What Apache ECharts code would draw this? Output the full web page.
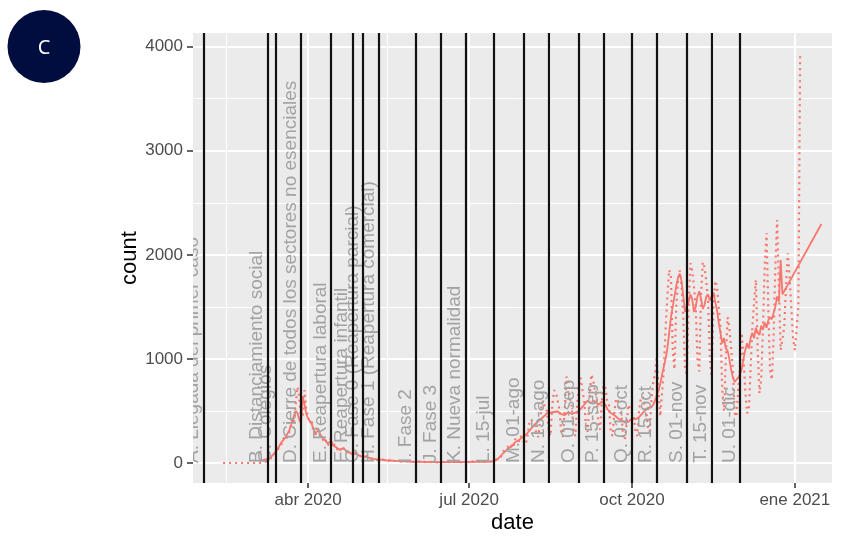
<!DOCTYPE html>
<html>
<head>
<meta charset="utf-8">
<script src="https://cdn.jsdelivr.net/npm/echarts@6/dist/echarts.min.js"></script>
<style>
  html, body { margin: 0; padding: 0; background: #fff; }
  #chart { width: 843px; height: 543px; }
</style>
</head>
<body>
<div id="chart"></div>
<script>
// daily counts (dotted line), one value per day from 2020-02-13
const dailyStart = '2020-02-13';
const dailyCounts = [
  // feb 13-29
  0, 0, 0, 0, 0, 0, 0, 0, 0, 0, 0, 0, 0, 0, 0, 0, 0,
  // mar
  0, 0, 0, 0, 2, 5, 8, 12, 20, 30, 40, 60, 80, 110, 130, 160, 180, 230, 260, 240,
  280, 330, 440, 380, 560, 730, 640, 420, 450, 700, 520,
  // apr
  450, 380, 420, 300, 250, 330, 290, 260, 240, 200, 220, 170, 190, 240, 160, 180,
  140, 130, 110, 160, 150, 120, 130, 100, 90, 80, 120, 95, 80, 70,
  // may
  70, 55, 50, 65, 55, 45, 48, 38, 40, 30, 40, 35, 28, 30, 25, 22, 20, 26, 24, 20,
  22, 18, 15, 15, 19, 17, 14, 15, 12, 11, 12,
  // jun
  12, 10, 13, 9, 12, 8, 8, 11, 10, 11, 8, 10, 7, 7, 10, 11, 9, 7, 10, 11,
  7, 8, 10, 11, 9, 11, 8, 9, 11, 12,
  // jul
  9, 12, 13, 10, 9, 13, 12, 10, 14, 12, 11, 14, 15, 14, 20, 28, 40, 45, 60, 110,
  95, 140, 160, 140, 170, 150, 230, 220, 200, 260, 240,
  // aug
  200, 180, 260, 380, 420, 390, 360, 280, 250, 380, 560, 600, 520, 500, 300, 260,
  560, 700, 680, 600, 520, 300, 250, 520, 830, 780, 620, 540, 300, 260, 560,
  // sep
  740, 820, 700, 600, 350, 300, 620, 850, 800, 700, 640, 380, 320, 600, 780, 720,
  600, 560, 300, 260, 480, 620, 600, 500, 470, 260, 220, 380, 560, 520,
  // oct
  480, 450, 300, 260, 500, 620, 640, 560, 520, 330, 300, 600, 780, 850, 1020, 700,
  450, 445, 900, 1300, 1600, 1855, 1800, 1100, 900, 1500, 1750, 1850, 1700, 1400, 900,
  // nov
  850, 1500, 1920, 1850, 1700, 1500, 1000, 880, 1600, 1930, 1880, 1750, 1550, 1000,
  830, 1500, 1750, 1700, 1500, 1300, 700, 500, 1000, 1400, 1300, 1100, 900, 480, 445, 700,
  // dec
  900, 1250, 1000, 700, 480, 500, 900, 1300, 1550, 1760, 1100, 670, 800, 1300, 1900,
  2210, 1500, 900, 800, 1200, 1900, 2335, 1700, 1085, 1100, 1300, 1700, 2015, 1800, 1500, 1200,
  // jan 1-4
  1085, 1100, 1500, 3940
];

// smoothed counts (solid line), one value per day from 2020-03-05, then a last point
const smoothStart = '2020-03-05';
const smoothCounts = [
  // mar 5-31
  20, 25, 30, 35, 40, 45, 55, 70, 95, 120, 140, 170, 200, 220, 240, 270, 300, 340,
  400, 450, 500, 480, 420, 380, 640, 560, 470,
  // apr
  430, 400, 380, 330, 290, 300, 310, 270, 250, 230, 210, 190, 200, 210, 170, 160,
  150, 135, 125, 140, 145, 125, 115, 105, 95, 85, 100, 90, 80, 72,
  // may
  66, 60, 56, 58, 54, 48, 44, 40, 38, 34, 36, 33, 30, 29, 27, 24, 22, 24, 23, 21,
  20, 19, 17, 16, 17, 16, 15, 14, 13, 12, 12,
  // jun
  11, 11, 12, 10, 11, 9, 9, 10, 10, 10, 9, 10, 8, 8, 9, 10, 9, 8, 9, 10,
  8, 8, 9, 10, 10, 10, 9, 9, 10, 11,
  // jul
  10, 11, 12, 11, 10, 12, 12, 11, 13, 12, 12, 13, 14, 15, 18, 25, 35, 50, 70, 90,
  105, 120, 140, 155, 160, 175, 200, 215, 220, 235, 245,
  // aug
  250, 270, 290, 310, 330, 350, 370, 385, 400, 415, 430, 445, 460, 480, 490, 485,
  470, 490, 500, 495, 480, 470, 465, 460, 470, 490, 480, 470, 480, 485, 480,
  // sep
  500, 520, 540, 560, 580, 600, 590, 570, 600, 610, 580, 560, 570, 590, 590, 560,
  520, 500, 480, 470, 460, 450, 430, 420, 410, 400, 390, 385, 395, 410,
  // oct
  430, 440, 420, 410, 440, 460, 480, 500, 510, 530, 520, 540, 560, 600, 650, 700,
  760, 850, 925, 1000, 1100, 1250, 1400, 1500, 1600, 1700, 1780, 1820, 1750, 1600, 1450,
  // nov
  1500, 1550, 1620, 1580, 1450, 1500, 1600, 1650, 1580, 1480, 1520, 1600, 1620, 1560,
  1600, 1640, 1550, 1470, 1350, 1250, 1150, 1200, 1100, 1080, 1000, 900, 820, 780, 800, 820,
  // dec 1-25
  850, 900, 1000, 1085, 1150, 1100, 1200, 1250, 1200, 1300, 1250, 1230, 1320, 1280,
  1350, 1300, 1370, 1400, 1380, 1440, 1500, 1600, 1550, 1950, 1620
];
const smoothLast = ['2021-01-16', 2296];

// events (vertical lines + labels)
const eventDates = [
  '2020-02-02', '2020-03-09', '2020-03-14', '2020-03-28', '2020-04-14', '2020-04-26',
  '2020-05-02', '2020-05-11', '2020-06-01', '2020-06-15', '2020-06-29', '2020-07-15',
  '2020-08-01', '2020-08-15', '2020-09-01', '2020-09-15', '2020-10-01', '2020-10-15',
  '2020-11-01', '2020-11-15', '2020-12-01'
];
const eventLabels = [
  'A. Llegada del primer caso', 'B. Distanciamiento social', 'C. Colegios',
  'D. Cierre de todos los sectores no esenciales', 'E. Reapertura laboral',
  'F. Reapertura infantil', 'G. Fase 0 (Reapertura parcial)',
  'H. Fase 1 (Reapertura comercial)', 'I. Fase 2', 'J. Fase 3', 'K. Nueva normalidad',
  'L. 15-jul', 'M. 01-ago', 'N. 15-ago', 'O. 01-sep', 'P. 15-sep', 'Q. 01-oct',
  'R. 15-oct', 'S. 01-nov', 'T. 15-nov', 'U. 01-dic'
];

const xRange = ['2020-01-27', '2021-01-22'];
const xTicks = ['2020-04-01', '2020-07-01', '2020-10-01', '2021-01-01'];
const xMinorTicks = ['2020-02-15', '2020-05-16', '2020-08-16', '2020-11-16'];
const yRange = [-192, 4131];
const yTicks = [0, 1000, 2000, 3000, 4000];
const yMinorTicks = [500, 1500, 2500, 3500];
const monthNames = ['ene', 'feb', 'mar', 'abr', 'may', 'jun', 'jul', 'ago', 'sep', 'oct', 'nov', 'dic'];

// date string -> timestamp (x axis is a plain value axis holding timestamps)
function ts(s, addDays) {
  const p = s.split('-').map(Number);
  return new Date(p[0], p[1] - 1, p[2] + (addDays || 0)).getTime();
}

const dottedData = dailyCounts.map((v, i) => [ts(dailyStart, i), v]);
const solidData = smoothCounts.map((v, i) => [ts(smoothStart, i), v]);
solidData.push([ts(smoothLast[0]), smoothLast[1]]);

const RED = '#F8766D';
const FONT = '"Liberation Sans", Arial, sans-serif';

const chart = echarts.init(document.getElementById('chart'));

const option = {
  animation: false,
  grid: {
    left: 193, right: 11, top: 33, bottom: 60,
    show: true, backgroundColor: '#ebebeb', borderWidth: 0
  },
  xAxis: [
    {
      type: 'value',
      min: ts(xRange[0]), max: ts(xRange[1]),
      axisLine: { show: false, onZero: false },
      axisTick: {
        show: true, length: 5, customValues: xTicks.map(d => ts(d)),
        lineStyle: { color: '#333', width: 1.5 }
      },
      axisLabel: {
        customValues: xTicks.map(d => ts(d)),
        color: '#4d4d4d', fontSize: 17, fontFamily: FONT, margin: 9,
        formatter: v => {
          const d = new Date(v);
          return monthNames[d.getMonth()] + ' ' + d.getFullYear();
        }
      },
      splitLine: { show: true, lineStyle: { color: '#fff', width: 2 } },
      name: 'date', nameLocation: 'middle', nameGap: 29, nameMoveOverlap: false,
      nameTextStyle: { color: '#000', fontSize: 22, fontFamily: FONT }
    },
    {
      type: 'value', position: 'top',
      min: ts(xRange[0]), max: ts(xRange[1]),
      axisLine: { show: false, onZero: false },
      axisTick: { show: false, customValues: xMinorTicks.map(d => ts(d)) },
      axisLabel: { show: false, customValues: xMinorTicks.map(d => ts(d)) },
      splitLine: { show: true, lineStyle: { color: '#fff', width: 1 } }
    }
  ],
  yAxis: [
    {
      type: 'value', min: yRange[0], max: yRange[1],
      axisLine: { show: false, onZero: false },
      axisTick: {
        show: true, length: 6, customValues: yTicks,
        lineStyle: { color: '#333', width: 1.5 }
      },
      axisLabel: {
        customValues: yTicks, color: '#4d4d4d', fontSize: 17,
        fontFamily: FONT, margin: 10,
        formatter: v => String(v)
      },
      splitLine: { show: true, lineStyle: { color: '#fff', width: 2 } },
      name: 'count', nameLocation: 'middle', nameGap: 52, nameMoveOverlap: false,
      nameTextStyle: { color: '#000', fontSize: 22, fontFamily: FONT }
    },
    {
      type: 'value', position: 'right', min: yRange[0], max: yRange[1],
      axisLine: { show: false, onZero: false },
      axisTick: { show: false, customValues: yMinorTicks },
      axisLabel: { show: false, customValues: yMinorTicks },
      splitLine: { show: true, lineStyle: { color: '#fff', width: 1 } }
    }
  ],
  series: [
    {
      name: 'events',
      type: 'line',
      xAxisIndex: 0, yAxisIndex: 0,
      data: eventDates.map(d => [ts(d), 0]),
      showSymbol: false,
      lineStyle: { opacity: 0 },
      silent: true,
      z: 1,
      markLine: {
        silent: true,
        symbol: ['none', 'none'],
        label: { show: false },
        lineStyle: { color: '#111', width: 2.2, type: 'solid' },
        data: eventDates.map(d => ({ xAxis: ts(d) }))
      }
    },
    {
      name: 'daily',
      type: 'line',
      xAxisIndex: 0, yAxisIndex: 0,
      data: dottedData,
      showSymbol: false,
      lineStyle: { color: RED, width: 2.2, type: [2, 4] },
      z: 2
    },
    {
      name: 'smooth',
      type: 'line',
      xAxisIndex: 0, yAxisIndex: 0,
      data: solidData,
      showSymbol: false,
      lineStyle: { color: RED, width: 1.8 },
      z: 3
    },
    {
      name: 'labels',
      type: 'custom',
      xAxisIndex: 0, yAxisIndex: 0,
      clip: true,
      silent: true,
      z: 4,
      data: eventDates.map(d => [ts(d), 0]),
      encode: { x: 0, y: 1 },
      renderItem: (params, api) => {
        const p = api.coord([api.value(0), api.value(1)]);
        return {
          type: 'text',
          x: p[0] - 1,
          y: p[1],
          rotation: Math.PI / 2,
          style: {
            text: eventLabels[params.dataIndex],
            fill: '#a2a2a2',
            fontSize: 19,
            fontFamily: FONT,
            align: 'left',
            verticalAlign: 'bottom'
          }
        };
      }
    }
  ],
  graphic: [
    {
      type: 'circle',
      shape: { cx: 44, cy: 46.5, r: 36.5 },
      style: { fill: '#020d3f' }
    },
    {
      type: 'text',
      x: 44, y: 48,
      style: {
        text: 'C', fill: '#fff', fontSize: 20, fontFamily: '"Noto Sans", sans-serif',
        align: 'center', verticalAlign: 'middle'
      }
    }
  ]
};

chart.setOption(option);
</script>
</body>
</html>
